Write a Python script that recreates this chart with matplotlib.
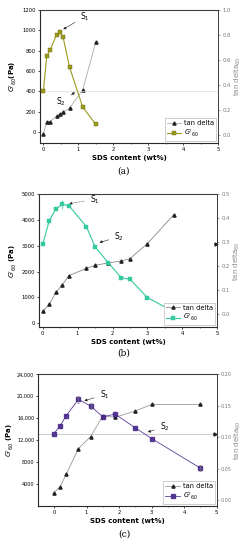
import matplotlib
matplotlib.use("Agg")
import matplotlib.pyplot as plt

# ---------- data ----------
a_x_g = [0, 0.094, 0.19, 0.375, 0.47, 0.56, 0.75, 1.125, 1.5]
a_g = [405, 745, 805, 955, 980, 935, 635, 245, 75]
a_x_t = [0, 0.094, 0.19, 0.375, 0.47, 0.56, 0.75, 1.125, 1.5]
a_t = [0.01, 0.109, 0.109, 0.151, 0.17, 0.183, 0.217, 0.363, 0.743]

b_x = [0, 0.19, 0.375, 0.56, 0.75, 1.25, 1.5, 1.875, 2.25, 2.5, 3.0, 3.75]
b_g = [3060, 3980, 4430, 4610, 4560, 3750, 2970, 2350, 1770, 1705, 995, 450]
b_t = [0.01, 0.04, 0.09, 0.121, 0.16, 0.19, 0.203, 0.213, 0.221, 0.231, 0.294, 0.414]

c_x = [0, 0.19, 0.375, 0.75, 1.125, 1.5, 1.875, 2.5, 3.0, 4.5]
c_g = [13175, 14580, 16420, 19420, 18190, 16230, 16720, 14210, 12260, 6850]
c_t = [0.0117, 0.0212, 0.041, 0.0817, 0.1008, 0.1337, 0.1316, 0.1416, 0.152, 0.152]

xticks = [0, 1, 2, 3, 4, 5]

fig = plt.figure(figsize=(2.48, 5.5), dpi=100)

FS = 3.8
def style(ax, ax2, rcol):
    ax.set_xticks(xticks)
    ax.tick_params(labelsize=FS, length=1.5, width=0.5, pad=1.5)
    ax.xaxis.set_minor_locator(matplotlib.ticker.MultipleLocator(0.5))
    ax.tick_params(which='minor', length=1, width=0.4)
    ax2.tick_params(labelsize=FS, length=1.5, width=0.5, pad=1.5, colors='#777777')
    for s in ax.spines.values():
        s.set_linewidth(0.6)
        s.set_color('#333333')
    ax2.spines['right'].set_color(rcol)
    ax2.spines['right'].set_linewidth(0.6)
    ax2.spines['top'].set_color('#666666')
    ax.set_xlabel('SDS content (wt%)', fontsize=5, fontweight='bold', labelpad=2)

def legend(ax, l1, l2):
    lg = ax.legend([l1, l2], ['tan delta', "$G'_{60}$"], loc='lower right',
                   fontsize=4.8, frameon=True, fancybox=False, framealpha=1,
                   edgecolor='#aaaaaa', borderpad=0.3, handlelength=2.2,
                   handletextpad=0.4, labelspacing=0.2, borderaxespad=0.3)
    lg.get_frame().set_linewidth(0.4)
    lg.set_zorder(20)

YL = 5.0
# ---------- (a) ----------
olive = '#9c9a1c'
ax = fig.add_axes([0.161, 0.74, 0.718, 0.242])
ax2 = ax.twinx()
ax.set_zorder(ax2.get_zorder() + 1)
ax.patch.set_visible(False)
ax.set_xlim(-0.1, 5)
ax.set_ylim(-108, 1200)
ax.set_yticks([0, 200, 400, 600, 800, 1000, 1200])
ax2.set_ylim(-0.061, 1.0)
ax2.set_yticks([0.0, 0.2, 0.4, 0.6, 0.8, 1.0])
ax.axhline(400, color='#dddddd', lw=0.5, zorder=0)
lt, = ax2.plot(a_x_t, a_t, color='#aaaaaa', lw=0.6, marker='^', ms=2.3,
               mfc='#222222', mec='#222222')
lg_, = ax.plot(a_x_g, a_g, color=olive, lw=0.8, marker='s', ms=2.6,
               mfc=olive, mec='#6b6a10', mew=0.3)
style(ax, ax2, '#888888')
ax.set_ylabel("$G'_{60}$(Pa)", fontsize=YL, fontweight='bold', labelpad=2)
ax2.set_ylabel("tan delta$_{60}$", fontsize=YL, color='#888888', labelpad=1.5)
ax.annotate('S$_1$', xy=(0.5, 995), xytext=(1.05, 1110), fontsize=5.5,
            arrowprops=dict(arrowstyle='-|>', lw=0.4, color='#222222', mutation_scale=4))
ax.annotate('S$_2$', xy=(0.97, 405), xytext=(0.36, 270), fontsize=5.5,
            arrowprops=dict(arrowstyle='-|>', lw=0.4, color='#222222', mutation_scale=4))
legend(ax, lt, lg_)
fig.text(0.5, 0.685, '(a)', ha='center', fontsize=6.5, family='DejaVu Serif')

# ---------- (b) ----------
teal = '#35c9a0'
ax = fig.add_axes([0.158, 0.405, 0.718, 0.2417])
ax2 = ax.twinx()
ax.set_zorder(ax2.get_zorder() + 1)
ax.patch.set_visible(False)
ax.set_xlim(-0.1, 5)
ax.set_ylim(-155, 5000)
ax.set_yticks([0, 1000, 2000, 3000, 4000, 5000])
ax2.set_ylim(-0.056, 0.5)
ax2.set_yticks([0.0, 0.1, 0.2, 0.3, 0.4, 0.5])
lt, = ax2.plot(b_x, b_t, color='#888888', lw=0.6, marker='^', ms=2.3,
               mfc='#222222', mec='#222222')
ax2.plot([4.95], [0.293], marker='>', ms=2.2, color='#222222', clip_on=False)
lg_, = ax.plot(b_x, b_g, color=teal, lw=0.8, marker='s', ms=2.6,
               mfc=teal, mec=teal, mew=0.3)
ax.errorbar([0.56], [4610], yerr=[180], color=teal, lw=0.5, capsize=0)
style(ax, ax2, '#555555')
ax.set_ylabel("$G'_{60}$ (Pa)", fontsize=YL, fontweight='bold', labelpad=2)
ax2.set_ylabel("tan delta$_{60}$", fontsize=YL, color='#888888', labelpad=1.5)
ax.annotate('S$_1$', xy=(0.68, 4620), xytext=(1.35, 4700), fontsize=5.5,
            arrowprops=dict(arrowstyle='-|>', lw=0.4, ls=':', color='#222222', mutation_scale=4))
ax.annotate('S$_2$', xy=(1.55, 3100), xytext=(2.05, 3250), fontsize=5.5,
            arrowprops=dict(arrowstyle='-|>', lw=0.4, color='#222222', mutation_scale=4))
legend(ax, lt, lg_)
fig.text(0.5, 0.354, '(b)', ha='center', fontsize=6.5, family='DejaVu Serif')

# ---------- (c) ----------
purple = '#4a2a8c'
ax = fig.add_axes([0.152, 0.0806, 0.722, 0.2389])
ax2 = ax.twinx()
ax.set_zorder(ax2.get_zorder() + 1)
ax.patch.set_visible(False)
ax.set_xlim(-0.5, 5)
ax.set_ylim(0, 24000)
ax.set_yticks([4000, 8000, 12000, 16000, 20000, 24000])
ax.set_yticklabels(['4000', '8000', '12,000', '16,000', '20,000', '24,000'])
ax2.set_ylim(-0.009, 0.2)
ax2.set_yticks([0.0, 0.05, 0.10, 0.15, 0.20])
ax2.set_yticklabels(['0.00', '0.05', '0.10', '0.15', '0.20'])
ax2.axhline(0.1055, color='#bbbbbb', lw=0.5, zorder=0)
ax2.plot([4.95], [0.1055], marker='>', ms=2.2, color='#222222', clip_on=False)
lt, = ax2.plot(c_x, c_t, color='#999999', lw=0.6, marker='^', ms=2.3,
               mfc='#222222', mec='#222222')
lg_, = ax.plot(c_x, c_g, color=purple, lw=0.6, marker='s', ms=2.4,
               mfc=purple, mec=purple, alpha=0.9)
ax.errorbar([0.75, 1.125, 4.5], [19420, 18190, 6850], yerr=[600, 600, 500],
            color='#777777', lw=0.5, capsize=1, capthick=0.4, ls='none')
style(ax, ax2, '#7a5fb0')
ax.tick_params(axis='y', labelsize=3.5, pad=1)
ax2.tick_params(labelsize=3.5, pad=1)
ax.set_ylabel("$G'_{60}$ (Pa)", fontsize=YL, fontweight='bold', labelpad=1)
ax2.set_ylabel("tan delta$_{60}$", fontsize=YL, color='#888888', labelpad=1)
ax.annotate('S$_1$', xy=(0.85, 19000), xytext=(1.4, 19800), fontsize=5.5,
            arrowprops=dict(arrowstyle='-|>', lw=0.4, color='#222222', mutation_scale=4))
ax.annotate('S$_2$', xy=(2.8, 13300), xytext=(3.25, 13900), fontsize=5.5,
            arrowprops=dict(arrowstyle='-|>', lw=0.4, color='#222222', mutation_scale=4))
legend(ax, lt, lg_)
fig.text(0.5, 0.025, '(c)', ha='center', fontsize=6.5, family='DejaVu Serif')

fig.savefig('out.png', dpi=100)
